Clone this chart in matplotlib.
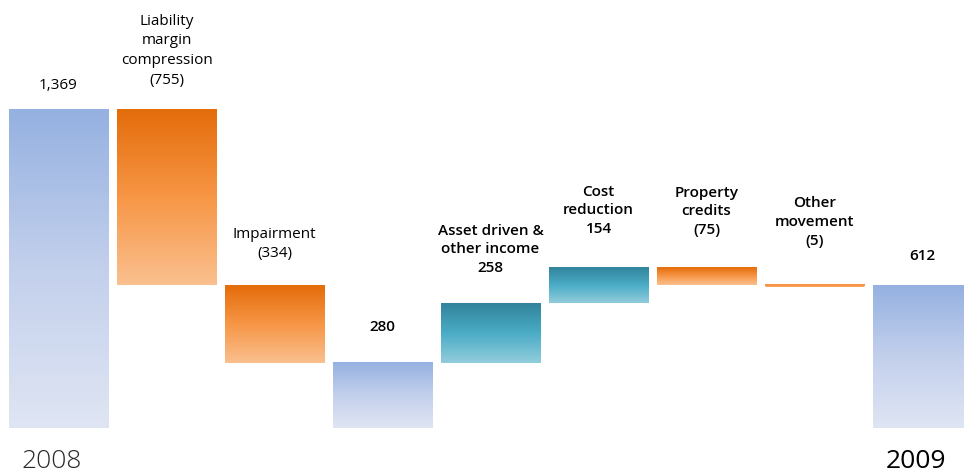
import numpy as np
import matplotlib
matplotlib.use("Agg")
import matplotlib.pyplot as plt
from matplotlib.colors import LinearSegmentedColormap

# Operating profit bridge, 2008 -> 2009
step_names = ["2008", "Liability\nmargin\ncompression", "Impairment", "",
              "Asset driven &\nother income", "Cost\nreduction",
              "Property\ncredits", "Other\nmovement", "2009"]
step_kinds = ["total", "delta", "delta", "total", "delta", "delta",
              "delta", "delta", "total"]
step_values = [1369, -755, -334, None, 258, 154, -75, -5, None]

# styling
label_weights = ["normal", "normal", "normal", "semibold", "semibold",
                 "semibold", "semibold", "semibold", "semibold"]
label_pad_px = [17, 22, 24, 29, 28, 31, 30, 37, 23]
year_weights = ["light", "normal"]
year_colors = ["#2a2a2a", "#000000"]

gradients = {
    "total": ["#dfe5f3", "#c3d0ec", "#95b1e1"],
    "neg": ["#fac08f", "#f79646", "#e46c0a"],
    "pos": ["#92cddc", "#4bacc6", "#31849b"],
}

plt.rcParams["font.family"] = ["Open Sans", "DejaVu Sans"]

fig = plt.figure(figsize=(9.64, 4.75), dpi=100)
ax = fig.add_axes([0, 0, 1, 1])
ax.set_xlim(-0.5417, 8.384)
ax.set_ylim(-202.3, 1842)
ax.axis("off")

bar_w = 99 / 108
ramp = np.linspace(0, 1, 256).reshape(-1, 1)

running = 0
for i, (name, kind, val) in enumerate(zip(step_names, step_kinds, step_values)):
    if kind == "total":
        if val is not None:
            running = val
        lo, hi = 0, running
        style = "total"
        txt = f"{running:,}"
    else:
        start = running
        running = running + val
        lo, hi = min(start, running), max(start, running)
        style = "pos" if val > 0 else "neg"
        num = f"({abs(val):,})" if val < 0 else f"{val:,}"
        txt = f"{name}\n{num}"
    cmap = LinearSegmentedColormap.from_list(f"g{i}", gradients[style])
    ax.imshow(ramp, cmap=cmap, origin="lower", aspect="auto",
              extent=(i - bar_w / 2, i + bar_w / 2, lo, hi),
              interpolation="bicubic", zorder=2)
    if hi - lo < 10:
        ax.plot([i - bar_w / 2, i + bar_w / 2], [hi, hi],
                color=gradients[style][1], lw=2, solid_capstyle="butt",
                zorder=3)
    ax.annotate(txt, xy=(i, hi), xytext=(0, label_pad_px[i] * 0.72),
                textcoords="offset points", ha="center", va="bottom",
                fontsize=11, linespacing=1.43, color="#000000",
                fontweight=label_weights[i])

# year captions under the first and last bars
for k, idx in enumerate([0, len(step_names) - 1]):
    ax.annotate(step_names[idx], xy=(idx, 0), xytext=(-7 * 0.72, -21 * 0.72),
                textcoords="offset points", ha="center", va="top",
                fontsize=19, color=year_colors[k], fontweight=year_weights[k])

fig.savefig("out.png", dpi=100, facecolor="white")
